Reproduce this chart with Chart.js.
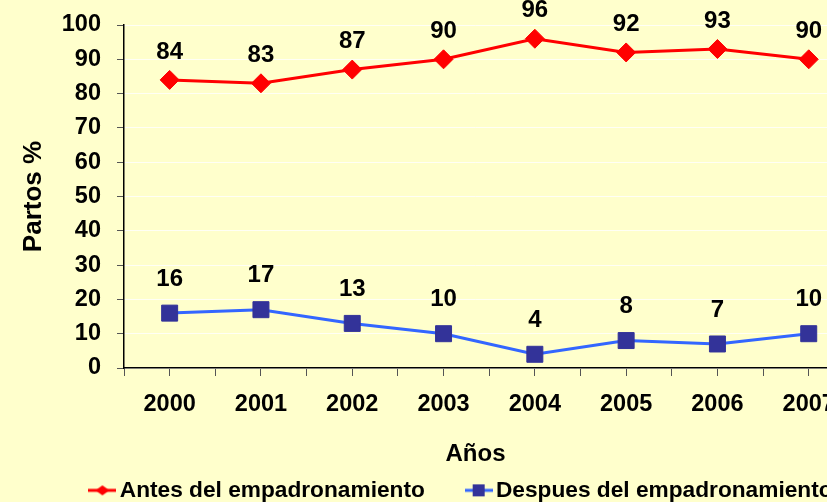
<!DOCTYPE html>
<html lang="es">
<head>
<meta charset="utf-8">
<title>Partos %</title>
<script src="https://cdn.jsdelivr.net/npm/chart.js@4.4.1/dist/chart.umd.min.js"></script>
<style>
  html, body { margin: 0; padding: 0; background: #ffffcc; overflow: hidden; }
  #wrap { width: 827px; height: 502px; }
  canvas { display: block; }
</style>
</head>
<body>
<div id="wrap"><canvas id="chart" width="827" height="502"></canvas></div>
<script>
// ------------------------------------------------------------
// Data
// ------------------------------------------------------------
const years = ['2000', '2001', '2002', '2003', '2004', '2005', '2006', '2007'];
const antes = [84, 83, 87, 90, 96, 92, 93, 90];
const despues = [16, 17, 13, 10, 4, 8, 7, 10];

const FONT = '"Liberation Sans", Arial, sans-serif';
Chart.defaults.font.family = FONT;
Chart.defaults.color = '#000';

// small line + marker image used as legend symbol
function legendIcon(lineColor, markerColor, shape) {
  const c = document.createElement('canvas');
  c.width = 28; c.height = 14;
  const g = c.getContext('2d');
  g.strokeStyle = lineColor;
  g.lineWidth = 3;
  g.beginPath(); g.moveTo(0, 7); g.lineTo(28, 7); g.stroke();
  g.fillStyle = markerColor;
  g.beginPath();
  if (shape === 'diamond') {
    g.moveTo(14, 2); g.lineTo(21, 7); g.lineTo(14, 12); g.lineTo(7, 7); g.closePath();
  } else {
    g.rect(8, 1, 12, 12);
  }
  g.fill();
  return c;
}
const legendIcons = [
  legendIcon('#ff0000', '#ff0000', 'diamond'),
  legendIcon('#3366ff', '#333399', 'square'),
];

// value labels above each point
const valueLabels = {
  id: 'valueLabels',
  afterDatasetsDraw(chart) {
    const ctx = chart.ctx;
    ctx.save();
    ctx.font = 'bold 24px ' + FONT;
    ctx.fillStyle = '#000';
    ctx.textAlign = 'center';
    ctx.textBaseline = 'middle';
    chart.data.datasets.forEach((ds, i) => {
      chart.getDatasetMeta(i).data.forEach((pt, j) => {
        ctx.fillText(String(ds.data[j].y), pt.x, pt.y - ds.labelOffset);
      });
    });
    ctx.restore();
  }
};

// the legend sits a bit right of the plot centre in the original
const legendShift = {
  id: 'legendShift',
  afterLayout(chart) {
    chart.legend.left += 51;
    chart.legend.right += 51;
  }
};

new Chart(document.getElementById('chart'), {
  type: 'line',
  data: {
    datasets: [{
      label: 'Antes del empadronamiento',
      data: antes.map((v, i) => ({ x: i, y: v })),
      borderColor: '#ff0000',
      borderWidth: 3,
      pointStyle: 'rectRot',
      pointRadius: 9.5,
      pointBackgroundColor: '#ff0000',
      pointBorderColor: '#ff0000',
      pointBorderWidth: 1,
      labelOffset: 28,
    }, {
      label: 'Despues del empadronamiento',
      data: despues.map((v, i) => ({ x: i, y: v })),
      borderColor: '#3366ff',
      borderWidth: 3,
      pointStyle: 'rect',
      pointRadius: 11.3,
      pointBackgroundColor: '#333399',
      pointBorderColor: '#333399',
      pointBorderWidth: 1,
      labelOffset: 34,
    }]
  },
  options: {
    responsive: false,
    animation: false,
    devicePixelRatio: 1,
    layout: { autoPadding: false, padding: { top: 25, left: 0, right: 0, bottom: 0 } },
    plugins: {
      tooltip: { enabled: false },
      legend: {
        position: 'bottom',
        maxHeight: 33,
        labels: {
          usePointStyle: true,
          pointStyleWidth: 12,
          padding: 10,
          color: '#000',
          font: { size: 22.7, weight: 'bold', lineHeight: 1 },
          generateLabels: (chart) => chart.data.datasets.map((ds, i) => ({
            text: i === 0 ? ds.label + '\u00a0'.repeat(6) : ds.label,
            pointStyle: legendIcons[i],
            fillStyle: ds.borderColor,
            strokeStyle: ds.borderColor,
            lineWidth: 0,
            hidden: false,
            datasetIndex: i,
            fontColor: '#000',
          })),
        }
      }
    },
    scales: {
      x: {
        type: 'linear',
        // the plot runs past the right edge of the picture, as in the original
        bounds: 'data',
        min: -0.5,
        max: 7.2,
        afterFit: (s) => { s.height = 101; s.paddingLeft = 0; s.paddingRight = 0; },
        grid: { drawOnChartArea: false, drawTicks: true, tickLength: 8, tickColor: '#555', lineWidth: 1 },
        border: { display: true, color: '#000', width: 1.5 },
        ticks: {
          stepSize: 0.5,
          includeBounds: false,
          autoSkip: false,
          maxRotation: 0,
          padding: 14,
          font: { size: 23.5, weight: 'bold' },
          color: '#000',
          callback: (v) => Number.isInteger(v) && years[v] ? years[v] : '',
        },
        title: {
          display: true,
          text: 'Años',
          font: { size: 24, weight: 'bold' },
          color: '#000',
          padding: { top: 24, bottom: 0 },
        }
      },
      y: {
        min: 0,
        max: 100,
        afterFit: (s) => { s.width = 124; s.paddingTop = 0; s.paddingBottom = 0; },
        grid: { color: 'rgba(255,255,255,0.8)', lineWidth: 1, tickLength: 7, tickColor: '#555' },
        border: { display: true, color: '#000', width: 1.5 },
        ticks: {
          stepSize: 10,
          padding: 16,
          font: { size: 23.5, weight: 'bold' },
          color: '#000',
        },
        title: {
          display: true,
          text: 'Partos %',
          font: { size: 26, weight: 'bold' },
          color: '#000',
          padding: { top: 18, bottom: 0 },
        }
      }
    }
  },
  plugins: [valueLabels, legendShift]
});
</script>
</body>
</html>
